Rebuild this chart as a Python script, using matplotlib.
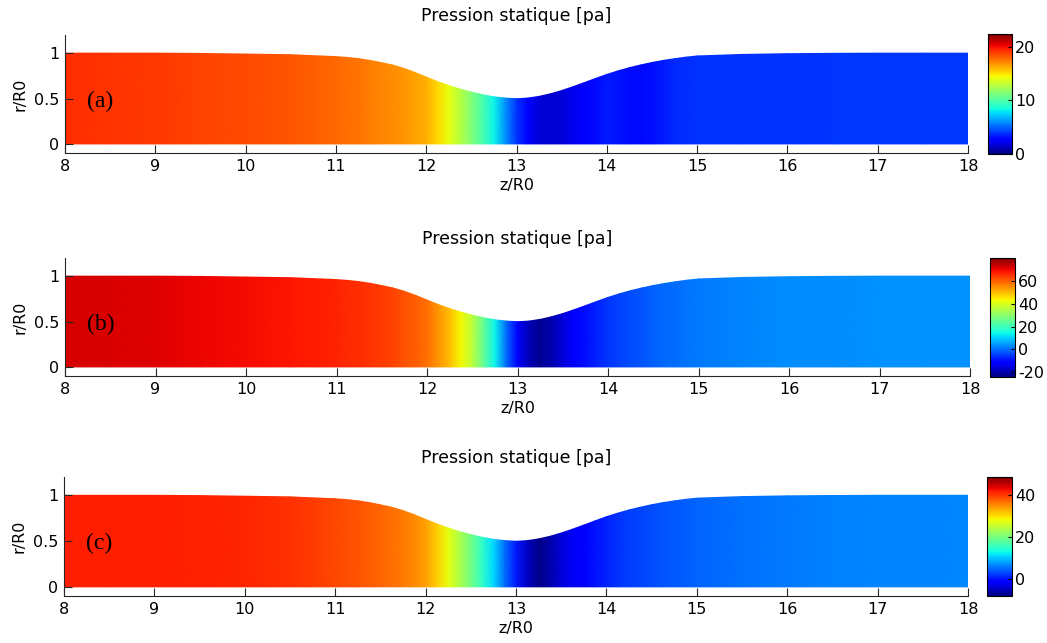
import numpy as np
import matplotlib
matplotlib.use('Agg')
import matplotlib.pyplot as plt

plt.rcParams['axes.unicode_minus'] = False

# axial stations along the tube and the wall radius at each one
z_nodes = [8, 8.5, 9, 9.5, 10, 10.5,
           11, 11.125, 11.25, 11.375, 11.5, 11.625, 11.75, 11.875,
           12, 12.125, 12.25, 12.375, 12.5, 12.625, 12.75, 12.875,
           13, 13.125, 13.25, 13.375, 13.5, 13.625, 13.75, 13.875,
           14, 14.125, 14.25, 14.375, 14.5, 14.625, 14.75, 14.875,
           15, 15.5, 16, 16.5, 17, 17.5, 18]
r_wall = [1.0, 1.0, 1.0, 0.997, 0.99, 0.983,
          0.962, 0.953, 0.940, 0.921, 0.896, 0.870, 0.833, 0.788,
          0.737, 0.687, 0.643, 0.604, 0.571, 0.542, 0.519, 0.505,
          0.498, 0.505, 0.524, 0.552, 0.588, 0.630, 0.675, 0.721,
          0.766, 0.805, 0.840, 0.870, 0.897, 0.920, 0.939, 0.956,
          0.969, 0.986, 0.994, 0.998, 1.0, 1.0, 1.0]

# static pressure [pa] at the same stations, one list per case
p_a = [19.3, 19.15, 19.0, 18.8, 18.6, 18.3,
       17.9, 17.75, 17.6, 17.4, 17.2, 17.0, 16.8, 16.5,
       16.2, 15.3, 14.1, 12.8, 11.3, 9.8, 8.2, 6.0,
       4.0, 2.6, 1.8, 1.6, 1.8, 2.1, 2.5, 3.0,
       3.4, 3.2, 3.0, 3.0, 3.1, 3.4, 3.7, 3.8,
       3.9, 3.9, 3.9, 4.0, 4.0, 4.0, 4.0]
p_b = [72.6, 72.2, 71.5, 70.5, 69.5, 68.5,
       67.0, 66.5, 66.0, 65.3, 64.5, 63.3, 62.0, 60.5,
       58.5, 54.5, 50.0, 43.5, 36.0, 25.0, 14.0, 0.0,
       -13.0, -19.5, -22.5, -20.0, -16.0, -13.0, -10.0, -8.0,
       -6.0, -4.7, -3.5, -2.5, -1.5, -0.7, 0.0, 0.6,
       1.2, 2.3, 3.0, 3.3, 3.5, 3.7, 3.8]
p_c = [41.3, 41.3, 41.3, 41.2, 41.0, 40.2,
       39.0, 38.6, 38.2, 37.7, 37.2, 36.5, 35.8, 34.9,
       33.7, 31.0, 27.5, 23.5, 19.5, 15.0, 11.0, 5.0,
       0.5, -4.5, -7.5, -6.0, -3.5, -2.2, -1.0, 0.0,
       1.0, 1.8, 2.5, 2.9, 3.3, 3.7, 4.0, 4.3,
       4.6, 5.3, 5.8, 6.1, 6.3, 6.5, 6.6]

clims = [(0, 22.4), (-24.5, 80.5), (-8, 48.3)]
cbar_ticks = [[0, 10, 20], [-20, 0, 20, 40, 60], [0, 20, 40]]
tags = ['(a)', '(b)', '(c)']

W, H = 1047, 643
# pixel boxes: left, top, right, bottom
ax_boxes = [(65, 35, 968, 153), (65, 258, 970, 376), (64, 477, 968, 596)]
cb_boxes = [(988, 34, 1012, 154), (990, 258, 1015, 377), (987, 477, 1012, 596)]


def frac(box):
    l, t, r, b = box
    return [l / W, 1 - b / H, (r - l) / W, (b - t) / H]


fig = plt.figure(figsize=(W / 100, H / 100), dpi=100)

z = np.array(z_nodes)
rw = np.array(r_wall)
X = np.vstack([z, z])
Y = np.vstack([np.zeros_like(rw), rw])

for i, p in enumerate([p_a, p_b, p_c]):
    ax = fig.add_axes(frac(ax_boxes[i]))
    C = np.vstack([p, p])
    mesh = ax.pcolormesh(X, Y, C, shading='gouraud', cmap='jet',
                         vmin=clims[i][0], vmax=clims[i][1])
    ax.set_xlim(8, 18)
    ax.set_ylim(-0.1, 1.2)
    ax.set_xticks(range(8, 19))
    ax.set_yticks([0, 0.5, 1])
    ax.set_yticklabels(['0', '0.5', '1'])
    for s in ['top', 'right']:
        ax.spines[s].set_visible(False)
    for s in ['left', 'bottom']:
        ax.spines[s].set_color('#262626')
        ax.spines[s].set_linewidth(0.8)
    ax.tick_params(direction='in', length=5.5, width=0.8, color='#262626',
                   labelsize=11.5, pad=4)
    ax.set_title('Pression statique [pa]', fontsize=12.5, pad=10)
    ax.set_xlabel('z/R0', fontsize=11.5, labelpad=3)
    ax.set_ylabel('r/R0', fontsize=11.5, labelpad=5)
    ax.text(8.24, 0.47, tags[i], ha='left', va='center', fontsize=17,
            family='Liberation Serif')

    cax = fig.add_axes(frac(cb_boxes[i]))
    cb = fig.colorbar(mesh, cax=cax, ticks=cbar_ticks[i])
    cb.outline.set_linewidth(0.8)
    cb.ax.tick_params(direction='in', length=3, width=0.8, labelsize=11.5, pad=2)

fig.savefig('out.png', dpi=100)
